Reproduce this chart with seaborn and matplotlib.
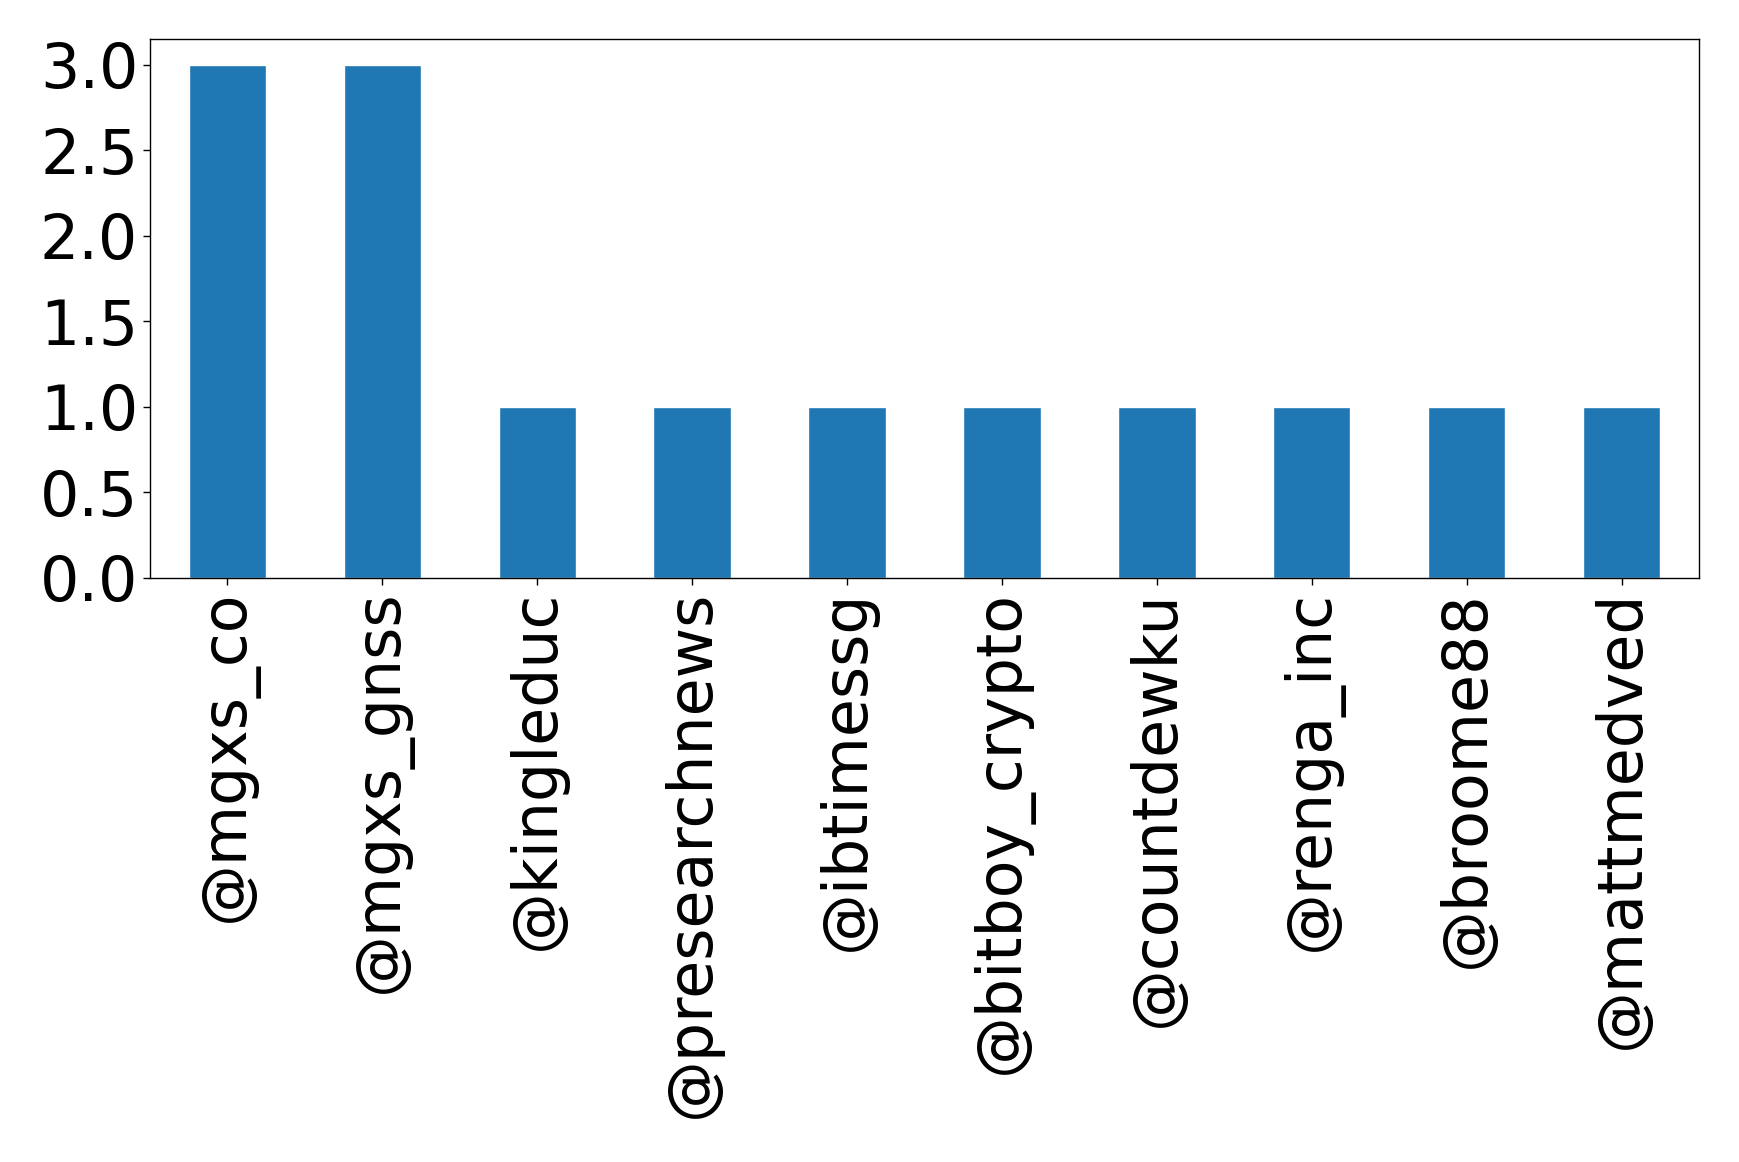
import pandas as pd
import matplotlib
matplotlib.use("Agg")
import matplotlib.pyplot as plt
import seaborn as sns

# === DATA ===
users = ['@mgxs_co', '@mgxs_gnss', '@kingleduc', '@presearchnews', '@ibtimessg',
         '@bitboy_crypto', '@countdewku', '@renga_inc', '@broome88', '@mattmedved']
counts = [3, 3, 1, 1, 1, 1, 1, 1, 1, 1]

df = pd.DataFrame({'user': users, 'count': counts})

sns.set_style('white')
plt.rcParams['font.family'] = ['DejaVu Sans']

fig = plt.figure(figsize=(17.39, 11.62), dpi=100)
ax = fig.add_axes([150 / 1739, 1 - 578 / 1162, (1699 - 150) / 1739, (578 - 39) / 1162])

sns.barplot(data=df, x='user', y='count', color='#1f77b4', saturation=1,
            width=0.5, ax=ax)

ax.set_xlim(-0.5, len(users) - 0.5)
ax.set_ylim(0, 3.15)
yt = [0, 0.5, 1.0, 1.5, 2.0, 2.5, 3.0]
ax.set_yticks(yt)
ax.set_yticklabels([f"{v:.1f}" for v in yt])
ax.set_xlabel('')
ax.set_ylabel('')
ax.tick_params(axis='both', labelsize=44.5, length=5, width=1, direction='out',
               bottom=True, left=True, colors='black', labelcolor='black')
plt.setp(ax.get_xticklabels(), rotation=90)
for s in ax.spines.values():
    s.set_visible(True)
    s.set_color('black')
    s.set_linewidth(1)

fig.savefig('out.png', dpi=100)
